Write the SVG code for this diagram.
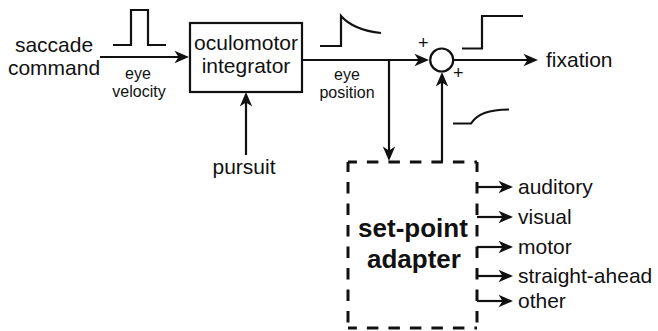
<svg xmlns="http://www.w3.org/2000/svg" width="658" height="331" viewBox="0 0 658 331">
<defs>
<marker id="ah" viewBox="-16 -8 17 16" refX="-4" refY="0" markerWidth="17" markerHeight="16" markerUnits="userSpaceOnUse" orient="auto">
<path d="M0,0 L-14.5,-6.2 L-10.5,0 L-14.5,6.2 Z" fill="#111"/>
</marker>
<style>
text{font-family:"Liberation Sans",Arial,sans-serif;fill:#111}
.big{font-size:21px}
.sm{font-size:16px}
.bold{font-size:26px;font-weight:bold}
.ln{stroke:#111;stroke-width:2.2;fill:none}
.ar{stroke:#111;stroke-width:2.2;fill:none;marker-end:url(#ah)}
.dash{stroke:#111;stroke-width:3;fill:none;stroke-dasharray:11.5 10}
.mid{text-anchor:middle}
</style>
</defs>
<g id="connectors">
<path class="ar" d="M100,57 H185"/>
<path class="ar" d="M302,60 H425"/>
<path class="ar" d="M389,60 V157"/>
<path class="ar" d="M442,162 V76"/>
<path class="ar" d="M453.5,60 H534"/>
<path class="ar" d="M246,155 V96"/>
<path class="ar" d="M477,187 H509"/>
<path class="ar" d="M477,217 H509"/>
<path class="ar" d="M477,247 H509"/>
<path class="ar" d="M477,276 H509"/>
<path class="ar" d="M477,301 H509"/>
</g>
<g id="waveforms">
<path class="ln" d="M113,45 H131 V10 H148 V45 H166"/>
<path class="ln" d="M320,46 H341 V16 C349,25 362,31 381,33"/>
<path class="ln" d="M462,48.5 H482 V16 H523"/>
<path class="ln" d="M453,123.5 H471 C478,113 489,110 509,109.5"/>
</g>
<g id="input">
<text class="big mid" x="54" y="52">saccade</text>
<text class="big mid" x="54" y="75">command</text>
<text class="sm mid" x="138" y="79">eye</text>
<text class="sm mid" x="139" y="97">velocity</text>
</g>
<g id="integrator">
<rect x="190" y="23" width="112" height="69" fill="none" stroke="#111" stroke-width="2.2"/>
<text class="big mid" x="246" y="50">oculomotor</text>
<text class="big mid" x="246" y="73">integrator</text>
</g>
<g id="pursuit">
<text class="big mid" x="244" y="174">pursuit</text>
</g>
<g id="eyeposition">
<text class="sm mid" x="347" y="80">eye</text>
<text class="sm mid" x="347" y="98">position</text>
</g>
<g id="sum">
<circle cx="441.7" cy="60" r="11.5" fill="#fff" stroke="#111" stroke-width="2.2"/>
<text class="mid" x="423.3" y="48.7" style="font-size:18px">+</text>
<text class="mid" x="458.3" y="78.7" style="font-size:18px">+</text>
</g>
<g id="fixation">
<text class="big" x="546" y="67">fixation</text>
</g>
<g id="setpoint">
<line class="dash" x1="348" y1="162" x2="477" y2="162" stroke-dashoffset="2.6"/>
<line class="dash" x1="348" y1="328" x2="477" y2="328" stroke-dashoffset="2.6"/>
<line class="dash" x1="348" y1="162" x2="348" y2="328" stroke-dashoffset="1.5"/>
<line class="dash" x1="477" y1="162" x2="477" y2="328" stroke-dashoffset="1.5"/>
<text class="bold mid" x="413" y="237">set-point</text>
<text class="bold mid" x="414" y="268">adapter</text>
</g>
<g id="outputs">
<text class="big" x="518" y="194">auditory</text>
<text class="big" x="518" y="224">visual</text>
<text class="big" x="518" y="254">motor</text>
<text class="big" x="518" y="283">straight-ahead</text>
<text class="big" x="518" y="308">other</text>
</g>
</svg>
